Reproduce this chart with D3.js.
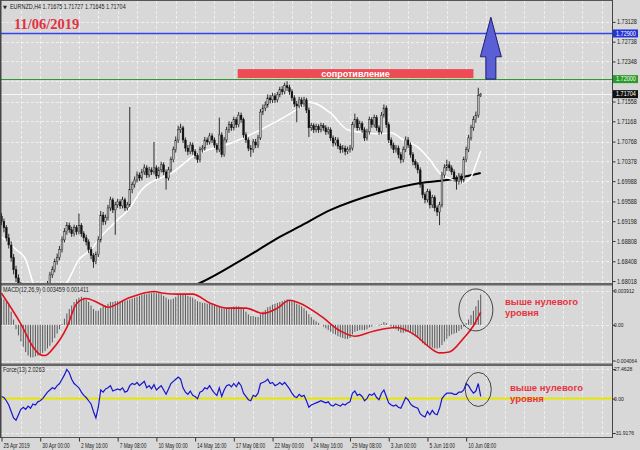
<!DOCTYPE html>
<html><head><meta charset="utf-8">
<script src="https://cdn.jsdelivr.net/npm/d3@7/dist/d3.min.js"></script>
<style>
html,body{margin:0;padding:0;background:#d8d8d8;}
svg{display:block;}
</style></head><body>
<svg id="chart" width="640" height="450"></svg>
<script>
// ---------------- DATA ----------------
const symbolTitle = "EURNZD,H4  1.71675 1.71727 1.71645 1.71704";
const dateTitle = "11/06/2019";
const firstOpen = 1.6930;
const close = [
1.6919,1.6907,1.6887,1.6873,1.6848,1.6824,1.6808,1.6793,1.6781,1.6769,
1.6765,1.6757,1.6765,1.6753,1.6761,1.6769,1.6765,1.6773,1.6785,1.6795,
1.6814,1.6824,1.6840,1.6848,1.6864,1.6883,1.6899,1.6911,1.6903,1.6895,
1.6907,1.6899,1.6911,1.6895,1.6887,1.6879,1.6864,1.6852,1.6840,1.6854,
1.6883,1.6932,1.6919,1.6927,1.6946,1.6962,1.6942,1.6952,1.6958,1.6950,
1.6962,1.6946,1.6952,1.6982,1.6992,1.7001,1.7011,1.7005,1.7017,1.7025,
1.7011,1.7021,1.7017,1.7025,1.7009,1.7021,1.7031,1.7017,1.7005,1.7021,
1.7041,1.7061,1.7080,1.7100,1.7104,1.7080,1.7064,1.7057,1.7070,1.7057,
1.7049,1.7041,1.7061,1.7064,1.7080,1.7076,1.7088,1.7080,1.7070,1.7061,
1.7090,1.7051,1.7080,1.7100,1.7110,1.7104,1.7120,1.7110,1.7129,1.7120,
1.7090,1.7080,1.7064,1.7061,1.7076,1.7070,1.7084,1.7135,1.7143,1.7149,
1.7163,1.7159,1.7167,1.7159,1.7169,1.7179,1.7175,1.7187,1.7183,1.7175,
1.7163,1.7151,1.7147,1.7159,1.7151,1.7159,1.7139,1.7104,1.7108,1.7100,
1.7106,1.7100,1.7108,1.7104,1.7096,1.7100,1.7084,1.7074,1.7080,1.7068,
1.7061,1.7064,1.7057,1.7061,1.7064,1.7110,1.7120,1.7104,1.7112,1.7100,
1.7084,1.7096,1.7120,1.7110,1.7124,1.7104,1.7096,1.7129,1.7143,1.7110,
1.7080,1.7070,1.7061,1.7064,1.7051,1.7041,1.7061,1.7080,1.7070,1.7051,
1.7037,1.7031,1.7021,1.6992,1.6972,1.6962,1.6978,1.6952,1.6966,1.6946,
1.6938,1.6952,1.7011,1.7025,1.7031,1.7025,1.7017,1.7005,1.6998,1.7009,
1.7001,1.7041,1.7061,1.7084,1.7104,1.7120,1.7129,1.71675,1.71704];
const high = [
1.6936,1.6925,1.6912,1.6895,1.6880,1.6855,1.6832,1.6815,1.6800,1.6788,
1.6778,1.6772,1.6771,1.6770,1.6767,1.6775,1.6776,1.6779,1.6791,1.6802,
1.6820,1.6831,1.6846,1.6856,1.6871,1.6890,1.6906,1.6918,1.6917,1.6909,
1.6913,1.6912,1.6935,1.6916,1.6900,1.6893,1.6884,1.6869,1.6857,1.6860,
1.6890,1.6940,1.6938,1.6933,1.6952,1.6968,1.6966,1.6958,1.6964,1.6963,
1.6968,1.6966,1.6958,1.7145,1.6998,1.7008,1.7018,1.7016,1.7023,1.7032,
1.7030,1.7027,1.7026,1.7076,1.7030,1.7027,1.7037,1.7036,1.7022,1.7027,
1.7047,1.7067,1.7087,1.7108,1.7112,1.7108,1.7085,1.7070,1.7076,1.7075,
1.7062,1.7054,1.7067,1.7070,1.7086,1.7085,1.7094,1.7093,1.7085,1.7074,
1.7124,1.7095,1.7086,1.7106,1.7117,1.7116,1.7126,1.7125,1.7135,1.7134,
1.7124,1.7095,1.7085,1.7070,1.7082,1.7082,1.7090,1.7141,1.7150,1.7156,
1.7170,1.7169,1.7173,1.7172,1.7175,1.7185,1.7186,1.7193,1.7196,1.7189,
1.7180,1.7168,1.7157,1.7165,1.7164,1.7165,1.7163,1.7144,1.7114,1.7113,
1.7112,1.7111,1.7114,1.7113,1.7109,1.7106,1.7105,1.7089,1.7086,1.7085,
1.7073,1.7070,1.7069,1.7067,1.7070,1.7116,1.7132,1.7125,1.7118,1.7117,
1.7105,1.7102,1.7126,1.7125,1.7130,1.7129,1.7109,1.7135,1.7150,1.7148,
1.7115,1.7085,1.7075,1.7070,1.7069,1.7056,1.7067,1.7087,1.7086,1.7075,
1.7056,1.7042,1.7036,1.7026,1.6997,1.6977,1.6984,1.6983,1.6972,1.6971,
1.6951,1.6958,1.7017,1.7032,1.7041,1.7038,1.7030,1.7022,1.7010,1.7015,
1.7014,1.7047,1.7067,1.7090,1.7110,1.7127,1.7136,1.7183,1.71727];
const low = [
1.6912,1.6898,1.6880,1.6866,1.6840,1.6815,1.6800,1.6785,1.6772,1.6760,
1.6758,1.6750,1.6751,1.6746,1.6748,1.6755,1.6759,1.6760,1.6768,1.6780,
1.6790,1.6808,1.6819,1.6834,1.6843,1.6858,1.6878,1.6893,1.6897,1.6889,
1.6890,1.6893,1.6894,1.6889,1.6880,1.6872,1.6857,1.6845,1.6828,1.6835,
1.6849,1.6878,1.6912,1.6913,1.6921,1.6940,1.6936,1.6893,1.6946,1.6944,
1.6945,1.6940,1.6941,1.6948,1.6975,1.6986,1.6996,1.6999,1.7000,1.7011,
1.7005,1.7006,1.7011,1.7012,1.7003,1.7004,1.7016,1.7011,1.6982,1.7000,
1.7016,1.7036,1.7055,1.7074,1.7094,1.7074,1.7057,1.7050,1.7052,1.7051,
1.7043,1.7035,1.7036,1.7055,1.7059,1.7070,1.7071,1.7074,1.7064,1.7055,
1.7056,1.7046,1.7047,1.7075,1.7094,1.7098,1.7099,1.7104,1.7105,1.7114,
1.7084,1.7074,1.7058,1.7047,1.7055,1.7064,1.7064,1.7080,1.7129,1.7137,
1.7144,1.7152,1.7153,1.7153,1.7154,1.7164,1.7169,1.7170,1.7177,1.7169,
1.7157,1.7145,1.7115,1.7142,1.7145,1.7146,1.7133,1.7086,1.7098,1.7094,
1.7095,1.7094,1.7095,1.7098,1.7090,1.7091,1.7078,1.7067,1.7069,1.7062,
1.7054,1.7055,1.7050,1.7052,1.7055,1.7059,1.7104,1.7098,1.7099,1.7094,
1.7078,1.7079,1.7091,1.7104,1.7105,1.7098,1.7090,1.7091,1.7124,1.7104,
1.7074,1.7063,1.7054,1.7055,1.7044,1.7034,1.7036,1.7056,1.7064,1.7045,
1.7030,1.7024,1.7014,1.6986,1.6965,1.6955,1.6957,1.6945,1.6946,1.6939,
1.6930,1.6912,1.6947,1.7005,1.7019,1.7019,1.7011,1.6998,1.6982,1.6992,
1.6994,1.6996,1.7036,1.7056,1.7079,1.7098,1.7114,1.7124,1.71645];

// white (fast) moving average, read at points
const maFastIdx = [0,6,10,13,18,22,27,32,37,41,47,53,58,71,79,96,107,115,123,127,136,143,150,156,161,166,172,177,181,187,190,194,196,198];
const maFastVal = [1.6889,1.6864,1.6844,1.6799,1.6765,1.6775,1.6799,1.6844,1.6864,1.6889,1.6918,1.6946,1.6982,1.7017,1.7047,1.7076,1.7100,1.7120,1.7143,1.7155,1.7133,1.7100,1.7094,1.7092,1.7094,1.7080,1.7066,1.7041,1.7015,1.7001,1.6995,1.7007,1.7031,1.7058];
// black (slow) moving average
const maSlowIdx = [70,82,98,106,115,123,136,156,173,184,198];
const maSlowVal = [1.6778,1.6798,1.6840,1.6863,1.6889,1.6909,1.6942,1.6976,1.6995,1.7001,1.7015];

const macdHist = [
0.0031,0.0029,0.0027,0.0024,0.0015,0.0006,-0.0005,-0.0012,-0.0019,-0.0025,
-0.0031,-0.0035,-0.0037,-0.0037,-0.0036,-0.0035,-0.0034,-0.0032,-0.0030,-0.0027,
-0.0024,-0.0020,-0.0015,-0.0010,-0.0005,0.0001,0.0007,0.0013,0.0018,0.0022,
0.0026,0.0029,0.0031,0.0032,0.0031,0.0029,0.0026,0.0022,0.0018,0.0016,
0.0016,0.0019,0.0021,0.0022,0.0024,0.0026,0.0026,0.0027,0.0027,0.0027,
0.0028,0.0027,0.0028,0.0029,0.0030,0.0031,0.0032,0.0033,0.0034,0.0035,
0.0035,0.0036,0.0036,0.0037,0.0036,0.0036,0.0035,0.0033,0.0031,0.0029,
0.0029,0.0030,0.0032,0.0034,0.0035,0.0035,0.0034,0.0033,0.0032,0.0031,
0.0029,0.0027,0.0026,0.0025,0.0025,0.0024,0.0024,0.0023,0.0022,0.0021,
0.0021,0.0019,0.0019,0.0019,0.0020,0.0020,0.0021,0.0021,0.0021,0.0020,
0.0018,0.0015,0.0012,0.0010,0.0010,0.0009,0.0009,0.0012,0.0015,0.0017,
0.0020,0.0021,0.0023,0.0024,0.0025,0.0026,0.0027,0.0028,0.0029,0.0028,
0.0027,0.0026,0.0024,0.0023,0.0021,0.0019,0.0016,0.0012,0.0009,0.0006,
0.0004,0.0002,0.0000,-0.0002,-0.0004,-0.0006,-0.0008,-0.0010,-0.0011,-0.0013,
-0.0014,-0.0015,-0.0016,-0.0016,-0.0015,-0.0011,-0.0008,-0.0007,-0.0006,-0.0006,
-0.0006,-0.0005,-0.0003,-0.0002,0.0000,0.0000,-0.0001,0.0001,0.0003,0.0002,
0.0000,-0.0002,-0.0004,-0.0005,-0.0007,-0.0009,-0.0009,-0.0008,-0.0008,-0.0009,
-0.0011,-0.0013,-0.0015,-0.0018,-0.0021,-0.0023,-0.0024,-0.0025,-0.0026,-0.0027,
-0.0027,-0.0026,-0.0023,-0.0019,-0.0016,-0.0013,-0.0011,-0.0010,-0.0009,-0.0007,
-0.0005,-0.0002,0.0002,0.0006,0.0011,0.0016,0.0021,0.0028,0.003459];
const macdSignalIdx = [0,8,13,16,18,21,27,31,35,40,44,52,63,67,73,79,86,93,101,108,114,119,123,132,140,146,154,163,171,177,181,185,191,195,197,198];
const macdSignalVal = [0.0036,0.0001,-0.0025,-0.0034,-0.0035,-0.0028,-0.0003,0.0024,0.0030,0.0025,0.0020,0.0030,0.0038,0.0036,0.0035,0.0035,0.0025,0.0019,0.0019,0.0013,0.0019,0.0028,0.0025,0.0010,-0.0007,-0.0013,-0.0007,-0.0003,-0.0012,-0.0026,-0.0032,-0.0031,-0.0015,-0.0001,0.0009,0.001411];

const force = [
2,1,-2,-6,-12,-18,-20,-15,-10,-8,
-10,-7,-9,-5,-6,-3,-2,0,3,6,
8,10,9,12,14,18,22,27,24,18,
14,12,10,6,3,1,-2,-5,-12,-18,
-8,8,6,9,10,12,7,8,9,8,
10,6,7,12,14,13,15,12,14,16,
10,12,9,13,8,10,12,8,4,9,
14,16,18,20,18,10,6,4,7,3,
2,0,6,7,10,9,12,8,5,3,
10,2,8,12,13,11,14,11,15,12,
5,2,-1,-2,3,2,5,14,15,16,
18,14,15,12,13,15,13,15,12,9,
5,2,1,4,2,3,-2,-8,-6,-5,
-4,-3,-2,-3,-4,-3,-6,-7,-5,-6,
-7,-5,-6,-4,-3,5,7,3,4,2,
-2,0,4,3,5,1,-1,5,8,2,
-4,-6,-7,-6,-8,-9,-4,1,-1,-5,
-7,-8,-9,-14,-16,-17,-12,-15,-11,-14,
-15,-9,0,3,5,5,5,4,4,6,
6,8,14,12,8,5,7,14,2.0263];

const priceTicks = [1.73128,1.72738,1.72348,1.71958,1.71558,1.71168,1.70768,1.70378,1.69988,1.69588,1.69198,1.68808,1.68408,1.68018];
const macdTicks = [0.003912,0,-0.004064];
const forceTicks = [27.4628,0,-31.9176];
const xTickIdx = [0,16,32,48,64,80,96,112,128,144,160,176,192];
const xTickLabels = ["25 Apr 2019","30 Apr 00:00","2 May 16:00","7 May 08:00","10 May 00:00","14 May 16:00","17 May 08:00","22 May 00:00","24 May 16:00","29 May 08:00","3 Jun 00:00","5 Jun 16:00","10 Jun 08:00"];
const levelBlue = 1.72900, levelGreen = 1.72000, bidPrice = 1.71704;
const resistanceLabel = "сопротивление";
const noteLines = ["выше нулевого","уровня"];
const macdTitle = "MACD(12,26,9) 0.003459 0.001411";
const forceTitle = "Force(13) 2.0263";

// ---------------- DRAW ----------------
const W = 640, H = 450, axisX = 612;
const svg = d3.select("#chart");
const FONT = "'Liberation Sans', Arial, sans-serif";
svg.append("rect").attr("width", W).attr("height", H).attr("fill", "#d8d8d8");

const x = d3.scaleLinear().domain([0, 198]).range([1.5, 480.7]);
const yP = d3.scaleLinear().domain([1.6796, 1.7356]).range([284, 0]);
const yM = d3.scaleLinear().domain([-0.004064, 0.003912]).range([360.5, 290.5]);
const yF = d3.scaleLinear().domain([-31.9176, 27.4628]).range([433, 369]);
const px = v => Math.round(v) + 0.5;

function squeeze(sel, k) {
  sel.each(function () {
    const len = this.getComputedTextLength();
    if (len > 0) d3.select(this).attr("textLength", len * k).attr("lengthAdjust", "spacingAndGlyphs");
  });
}

const defs = svg.append("defs");
function clip(id, y0, y1) {
  defs.append("clipPath").attr("id", id).append("rect").attr("x", 1).attr("y", y0).attr("width", axisX - 1).attr("height", y1 - y0);
}
clip("cMain", 1, 283); clip("cMacd", 286, 363.5); clip("cForce", 366, 437);

// grid
const grid = svg.append("g").attr("stroke", "#efefef").attr("stroke-width", 1).attr("stroke-dasharray", "3,2");
d3.range(8, 253, 8).forEach(i => {
  const gx = px(x(i));
  [[1, 283], [286, 363.5], [366, 437]].forEach(([a, b]) =>
    grid.append("line").attr("x1", gx).attr("x2", gx).attr("y1", a).attr("y2", b));
});
priceTicks.forEach(p => grid.append("line").attr("x1", 1).attr("x2", axisX).attr("y1", px(yP(p))).attr("y2", px(yP(p))));
macdTicks.forEach(v => grid.append("line").attr("x1", 1).attr("x2", axisX).attr("y1", px(yM(v))).attr("y2", px(yM(v))));
forceTicks.filter(v => v !== 0).forEach(v => grid.append("line").attr("x1", 1).attr("x2", axisX).attr("y1", px(yF(v))).attr("y2", px(yF(v))));

// main panel
const gMain = svg.append("g").attr("clip-path", "url(#cMain)");
gMain.append("line").attr("x1", 1).attr("x2", axisX).attr("y1", px(yP(bidPrice))).attr("y2", px(yP(bidPrice))).attr("stroke", "#f6f6f6").attr("stroke-width", 1);
gMain.append("line").attr("x1", 1).attr("x2", axisX).attr("y1", yP(levelBlue)).attr("y2", yP(levelBlue)).attr("stroke", "#3344ee").attr("stroke-width", 1.4);
gMain.append("line").attr("x1", 1).attr("x2", axisX).attr("y1", px(yP(levelGreen))).attr("y2", px(yP(levelGreen))).attr("stroke", "#2f9a2f").attr("stroke-width", 1.1);

const lineP = d3.line().x(d => x(d[0])).y(d => yP(d[1])).curve(d3.curveMonotoneX);
gMain.append("path").attr("d", lineP(maSlowIdx.map((d, i) => [d, maSlowVal[i]]))).attr("fill", "none").attr("stroke", "#000").attr("stroke-width", 2);
gMain.append("path").attr("d", lineP(maFastIdx.map((d, i) => [d, maFastVal[i]]))).attr("fill", "none").attr("stroke", "#ffffff").attr("stroke-width", 1.5);

const bars = close.map((c, i) => ({ i, o: i ? close[i - 1] : firstOpen, c, h: high[i], l: low[i] }));
const cg = gMain.append("g");
cg.selectAll("line.w").data(bars).join("line").attr("class", "w")
  .attr("x1", d => x(d.i)).attr("x2", d => x(d.i)).attr("y1", d => yP(d.h)).attr("y2", d => yP(d.l))
  .attr("stroke", "#1a1a1a").attr("stroke-width", 0.9);
cg.selectAll("rect").data(bars).join("rect")
  .attr("x", d => x(d.i) - 0.9).attr("width", 1.8)
  .attr("y", d => yP(Math.max(d.o, d.c)))
  .attr("height", d => Math.max(0.8, Math.abs(yP(d.o) - yP(d.c))))
  .attr("fill", d => d.c >= d.o ? "#b8b8b8" : "#111")
  .attr("stroke", "#111").attr("stroke-width", 0.4);

// resistance band
const rY = yP(levelGreen) - 10;
svg.append("rect").attr("x", x(97.6)).attr("y", rY).attr("width", x(195) - x(97.6)).attr("height", 9).attr("fill", "#ee4b56");
svg.append("text").attr("x", (x(97.6) + x(195)) / 2).attr("y", rY + 7.6).attr("text-anchor", "middle")
  .attr("font-family", FONT).attr("font-weight", "bold").attr("font-size", 9).attr("fill", "#fff").text(resistanceLabel);

// arrow up
const ax = x(202.2), aw = 5, hw = 10.5, yBase = yP(levelGreen), yHead = yP(1.7244), yTip = yP(1.7322);
svg.append("path").attr("d", `M${ax - aw},${yBase} L${ax - aw},${yHead} L${ax - hw},${yHead} L${ax},${yTip} L${ax + hw},${yHead} L${ax + aw},${yHead} L${ax + aw},${yBase} Z`)
  .attr("fill", "#5b5fd6").attr("stroke", "#1e1e6e").attr("stroke-width", 1);

// titles
svg.append("text").attr("x", 3).attr("y", 9).attr("font-family", "'DejaVu Sans'").attr("font-size", 5).attr("fill", "#222").text("▼");
squeeze(svg.append("text").attr("x", 10).attr("y", 9).attr("font-family", FONT).attr("font-size", 6.4).attr("fill", "#222").text(symbolTitle), 0.85);
svg.append("text").attr("x", 14).attr("y", 29).attr("font-family", "'Liberation Serif', 'Times New Roman', serif").attr("font-weight", "bold").attr("font-size", 14.5).attr("fill", "#e2303f").text(dateTitle);

// MACD panel
const gM = svg.append("g").attr("clip-path", "url(#cMacd)");
gM.selectAll("line").data(macdHist).join("line")
  .attr("x1", (d, i) => x(i)).attr("x2", (d, i) => x(i)).attr("y1", yM(0)).attr("y2", d => yM(d))
  .attr("stroke", "#4a4a4a").attr("stroke-width", 0.9);
const lineM = d3.line().x(d => x(d[0])).y(d => yM(d[1])).curve(d3.curveMonotoneX);
gM.append("path").attr("d", lineM(macdSignalIdx.map((d, i) => [d, macdSignalVal[i]]))).attr("fill", "none").attr("stroke", "#e0101e").attr("stroke-width", 1.6);
squeeze(svg.append("text").attr("x", 3).attr("y", 292).attr("font-family", FONT).attr("font-size", 6.4).attr("fill", "#222").text(macdTitle), 0.85);
svg.append("ellipse").attr("cx", x(196)).attr("cy", yM(0.0017)).attr("rx", 17).attr("ry", 21).attr("fill", "none").attr("stroke", "#333").attr("stroke-width", 0.9);

// Force panel
const gF = svg.append("g").attr("clip-path", "url(#cForce)");
gF.append("line").attr("x1", 1).attr("x2", axisX).attr("y1", yF(0)).attr("y2", yF(0)).attr("stroke", "#e6e600").attr("stroke-width", 2);
gF.append("path").attr("d", d3.line().x((d, i) => x(i)).y(d => yF(d))(force)).attr("fill", "none").attr("stroke", "#1515d0").attr("stroke-width", 1.2);
squeeze(svg.append("text").attr("x", 3).attr("y", 372).attr("font-family", FONT).attr("font-size", 6.4).attr("fill", "#222").text(forceTitle), 0.85);
svg.append("ellipse").attr("cx", x(197)).attr("cy", yF(8.5)).attr("rx", 13).attr("ry", 17).attr("fill", "none").attr("stroke", "#333").attr("stroke-width", 0.9);

// notes
function note(x0, y0) {
  noteLines.forEach((t, k) => svg.append("text").attr("x", x0).attr("y", y0 + k * 10.5)
    .attr("font-family", FONT).attr("font-weight", "bold").attr("font-size", 9.5).attr("fill", "#e8333f").text(t));
}
note(505, 305);
note(510, 391);

// panel separators & frame
svg.append("rect").attr("x", 0).attr("y", 283).attr("width", axisX + 1).attr("height", 2.5).attr("fill", "#666");
svg.append("rect").attr("x", 0).attr("y", 363.5).attr("width", axisX + 1).attr("height", 2.5).attr("fill", "#666");
svg.append("line").attr("x1", 0).attr("x2", axisX).attr("y1", 437.5).attr("y2", 437.5).attr("stroke", "#555");
svg.append("line").attr("x1", 0).attr("x2", axisX).attr("y1", 0.5).attr("y2", 0.5).attr("stroke", "#555");
svg.append("line").attr("x1", 0.75).attr("x2", 0.75).attr("y1", 0).attr("y2", 438).attr("stroke", "#444").attr("stroke-width", 1.5);

// right axes
function rightAxis(scale, ticks, fmt, dx, k, size) {
  const g = svg.append("g").attr("transform", `translate(${axisX + 0.5},0)`)
    .call(d3.axisRight(scale).tickValues(ticks).tickSize(3).tickFormat(fmt));
  g.select(".domain").remove();
  g.selectAll("line").attr("stroke", "#333");
  const t = g.selectAll("text").attr("x", dx).attr("font-family", FONT).attr("font-size", size).attr("fill", "#222");
  squeeze(t, k);
  return g;
}
// a price label that falls under the green level tag stays hidden, as in the terminal
rightAxis(yP, priceTicks, p => Math.abs(yP(p) - yP(levelGreen)) < 6 ? "" : p.toFixed(5), 4.5, 0.86, 6.4);
const gMacdAxis = rightAxis(yM, macdTicks, d => d === 0 ? "0.00" : d.toFixed(6), 1.5, 0.84, 5.8);
gMacdAxis.selectAll("text").filter(d => d < 0).attr("text-anchor", "end").attr("x", 24.5);
rightAxis(yF, forceTicks, d => d === 0 ? "0.00" : String(d), 1.5, 0.82, 6.2);
svg.append("line").attr("x1", axisX + 0.5).attr("x2", axisX + 0.5).attr("y1", 0).attr("y2", 438).attr("stroke", "#444");

// price labels on axis
function tag(p, fill) {
  const yy = yP(p);
  svg.append("rect").attr("x", axisX + 1).attr("y", yy - 4).attr("width", 25).attr("height", 8).attr("fill", fill);
  squeeze(svg.append("text").attr("x", axisX + 4).attr("y", yy + 2.3).attr("font-family", FONT).attr("font-size", 6.4).attr("fill", "#fff").text(p.toFixed(5)), 0.86);
}
tag(levelBlue, "#2233d8");
tag(levelGreen, "#2a9a2a");
tag(bidPrice, "#111");

// x axis
const gx = svg.append("g").attr("transform", "translate(0,437.5)")
  .call(d3.axisBottom(x).tickValues(xTickIdx).tickSize(4).tickFormat((d, i) => xTickLabels[i]));
gx.select(".domain").remove();
gx.selectAll("line").attr("stroke", "#333");
const xt = gx.selectAll("text").attr("text-anchor", "start").attr("x", 1.5).attr("y", 5.5).attr("dy", "0.71em")
  .attr("font-family", FONT).attr("font-size", 6.4).attr("fill", "#222");
squeeze(xt, 0.76);
</script>
</body></html>
